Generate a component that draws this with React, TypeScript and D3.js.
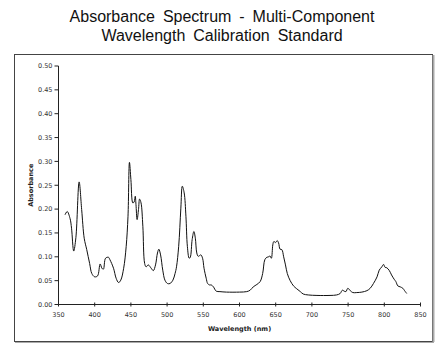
import React from "react";
import * as d3 from "d3";

const titleLines = ["Absorbance Spectrum - Multi-Component", "Wavelength Calibration Standard"];
const xTicks = [350, 400, 450, 500, 550, 600, 650, 700, 750, 800, 850];
const yTicks = [0, 0.05, 0.1, 0.15, 0.2, 0.25, 0.3, 0.35, 0.4, 0.45, 0.5];

// wavelength (nm)
const wavelength = [
  359, 362, 366, 368, 371, 374, 378.5, 382, 385.5, 389, 393, 396, 400, 404, 407.5, 410, 412, 415, 419, 421,
  426, 429.6, 433, 436, 440, 443.5, 446, 448, 450, 452.7, 454.5, 456, 457, 458.6, 460.5, 462, 464, 466.5, 469,
  471, 474, 478, 481, 484, 486.7, 488.6, 491, 494, 497, 500.5, 504, 508, 511, 513, 516, 519, 521, 523.6, 526,
  528, 530.5, 532, 534.6, 537, 539, 541, 543, 546.6, 549, 551, 554, 556, 558.5, 561, 564, 567.8, 573, 582,
  600, 610, 614.7, 619, 624, 628.5, 632, 635, 637.8, 640.5, 642, 644, 646, 647.4, 650, 652, 654, 656, 658.5,
  661, 663.5, 666, 670, 674.6, 679, 684, 688, 695, 707, 725, 734, 739, 742, 744.6, 747, 749.6, 753, 756.5, 762,
  769, 776, 780.5, 785, 790, 793, 796.6, 799, 801, 803.5, 807, 810, 813.6, 816, 818.7, 822, 825.6, 828, 831,
];
// absorbance at each wavelength
const absorbance = [
  0.188, 0.195, 0.18, 0.16, 0.112, 0.14, 0.257, 0.199, 0.139, 0.115, 0.086, 0.065, 0.058, 0.06, 0.085, 0.076,
  0.074, 0.097, 0.099, 0.094, 0.076, 0.055, 0.046, 0.051, 0.076, 0.122, 0.185, 0.298, 0.262, 0.213, 0.215,
  0.227, 0.21, 0.178, 0.199, 0.221, 0.213, 0.164, 0.086, 0.079, 0.083, 0.076, 0.071, 0.083, 0.108, 0.116,
  0.104, 0.072, 0.051, 0.044, 0.044, 0.051, 0.065, 0.079, 0.122, 0.202, 0.248, 0.234, 0.185, 0.122, 0.097,
  0.099, 0.136, 0.153, 0.139, 0.108, 0.101, 0.104, 0.097, 0.076, 0.055, 0.044, 0.041, 0.041, 0.037, 0.028,
  0.027, 0.026, 0.026, 0.027, 0.03, 0.037, 0.042, 0.048, 0.065, 0.094, 0.099, 0.1, 0.102, 0.097, 0.125,
  0.132, 0.13, 0.134, 0.129, 0.116, 0.115, 0.1, 0.083, 0.065, 0.05, 0.039, 0.033, 0.027, 0.022, 0.02, 0.019,
  0.019, 0.02, 0.023, 0.03, 0.028, 0.027, 0.034, 0.029, 0.025, 0.025, 0.026, 0.029, 0.034, 0.044, 0.058,
  0.072, 0.079, 0.084, 0.078, 0.077, 0.071, 0.062, 0.053, 0.048, 0.039, 0.037, 0.034, 0.029, 0.023,
];

const W = 444;
const H = 353;
const tickFont = "'DejaVu Sans', sans-serif";

const App = () => {
  const x = d3.scaleLinear().domain([350, 850]).range([58.5, 420.5]);
  const y = d3.scaleLinear().domain([0, 0.5]).range([304.5, 66]);

  const data = wavelength.map((w, i) => ({ w, a: absorbance[i] }));
  const line = d3
    .line<{ w: number; a: number }>()
    .x((d) => x(d.w))
    .y((d) => y(d.a))
    .curve(d3.curveCatmullRom.alpha(0.5));

  return (
    <svg width={W} height={H} style={{ position: "absolute", left: 0, top: 0, background: "#fff" }}>
      {titleLines.map((t, i) => (
        <text
          key={t}
          x={222}
          y={21.5 + i * 19}
          textAnchor="middle"
          fontFamily="'Liberation Sans', Arial, sans-serif"
          fontSize={16}
          wordSpacing={3.5}
          fill="#111"
        >
          {t}
        </text>
      ))}

      {/* frame */}
      <rect x={14.5} y={54.5} width={418} height={287} fill="none" stroke="#444" strokeWidth={1} />
      <line x1={433.5} y1={55} x2={433.5} y2={342} stroke="#aaa" strokeWidth={2} />
      <line x1={15} y1={342.5} x2={434} y2={342.5} stroke="#aaa" strokeWidth={1} />

      {/* y axis */}
      <line x1={x(350)} y1={y(0)} x2={x(350)} y2={y(0.5)} stroke="#222" strokeWidth={1} />
      {yTicks.map((t) => (
        <g key={t}>
          <line x1={x(350) - 4} x2={x(350)} y1={y(t)} y2={y(t)} stroke="#222" />
          <text
            x={x(350) - 6}
            y={y(t)}
            dy="0.35em"
            textAnchor="end"
            fontFamily={tickFont}
            fontSize={6.5}
            fill="#333"
          >
            {t.toFixed(2)}
          </text>
        </g>
      ))}

      {/* x axis */}
      <line x1={x(350)} y1={y(0)} x2={x(850)} y2={y(0)} stroke="#222" strokeWidth={1} />
      {xTicks.map((t) => (
        <g key={t}>
          <line x1={x(t)} x2={x(t)} y1={y(0) - 2} y2={y(0) + 2} stroke="#222" />
          <text x={x(t)} y={y(0) + 12} textAnchor="middle" fontFamily={tickFont} fontSize={6.5} fill="#333">
            {t}
          </text>
        </g>
      ))}

      <text
        transform={`translate(33,${(y(0) + y(0.5)) / 2}) rotate(-90)`}
        textAnchor="middle"
        fontFamily={tickFont}
        fontWeight="bold"
        fontSize={6.5}
        fill="#222"
      >
        Absorbance
      </text>
      <text
        x={(x(350) + x(850)) / 2}
        y={331}
        textAnchor="middle"
        fontFamily={tickFont}
        fontWeight="bold"
        fontSize={6.5}
        fill="#222"
      >
        Wavelength (nm)
      </text>

      <path d={line(data) ?? ""} fill="none" stroke="#111" strokeWidth={1} />
    </svg>
  );
};

export default App;
